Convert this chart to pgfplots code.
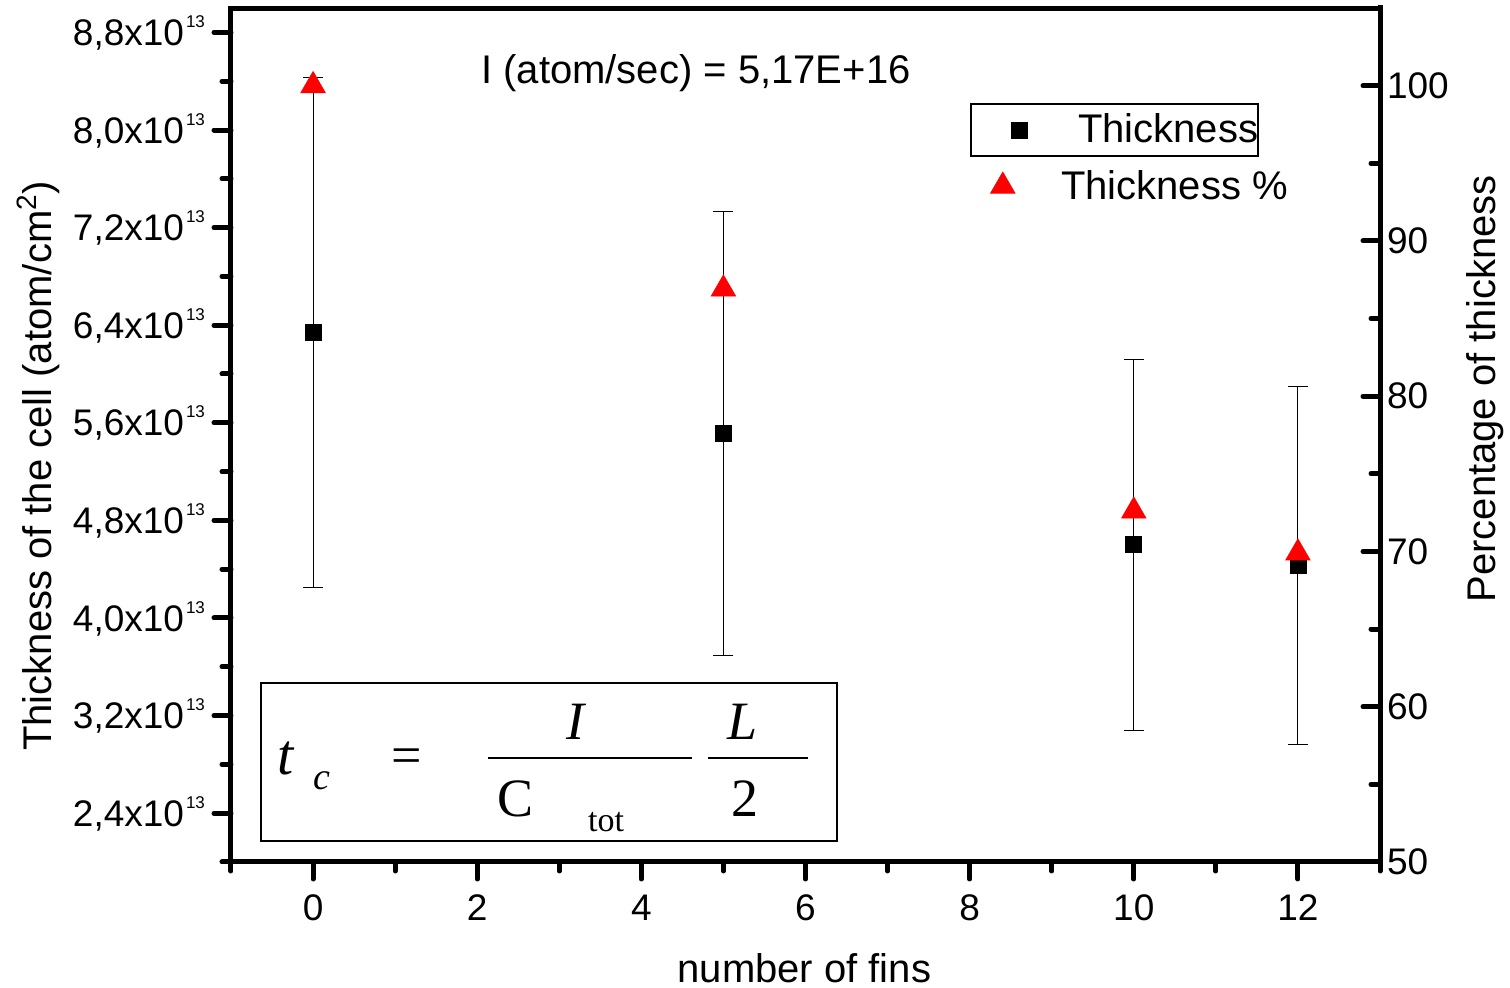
\documentclass[border=0pt]{standalone}
\usepackage{fontspec}
\setmainfont{Liberation Sans}
\newfontfamily\serif{Liberation Serif}
\usepackage{pgfplots}
\pgfplotsset{compat=1.18}
\newcommand{\tenexp}{x10\hspace{1pt}\raisebox{9pt}{\fontsize{8.5}{10}\selectfont 13}}
\begin{document}
\begin{tikzpicture}
\pgfplotsset{
  base/.style={scale only axis, width=574.5pt, height=427pt, xmin=-1, xmax=13,
    axis line style={line width=2.5pt, line cap=rect},
    major tick length=8.5pt, minor tick length=4.5pt,
    every major tick/.append style={line width=2.5pt, black, line cap=round},
    every minor tick/.append style={line width=2.5pt, black, line cap=round},
    /pgf/number format/assume math mode=true,
    tick label style={font=\fontsize{18.5}{20}\selectfont},
    label style={font=\fontsize{20}{24}\selectfont},
    legend image code/.code={\path (0pt,-4pt) (52.5pt,4pt);
      \draw[##1, line width=0.4pt] plot coordinates {(23.5pt,0pt)};},
  }
}
\begin{axis}[base, name=main, ymin=2.0e13, ymax=9.0e13,
  xtick pos=bottom, ytick pos=left, tick align=outside,
  xtick={0,2,...,12}, minor xtick={-1,1,...,13},
  xticklabel style={yshift=-4.5pt},
  scaled y ticks=false,
  ytick={2.4e13,3.2e13,4.0e13,4.8e13,5.6e13,6.4e13,7.2e13,8.0e13,8.8e13},
  yticklabels={{2,4\tenexp},{3,2\tenexp},{4,0\tenexp},{4,8\tenexp},{5,6\tenexp},{6,4\tenexp},{7,2\tenexp},{8,0\tenexp},{8,8\tenexp}},
  minor ytick={2.0e13,2.8e13,3.6e13,4.4e13,5.2e13,6.0e13,6.8e13,7.6e13,8.4e13},
  yticklabel style={anchor=base east, yshift=-6.6pt, xshift=-1pt},
  xlabel={number of fins},
  ylabel={Thickness of the cell (atom/cm\textsuperscript{2})},
  xlabel style={at={(axis description cs:0.499,-0.124)}, anchor=center},
  ylabel style={at={(axis description cs:-0.168,0.464)}, anchor=center},
  legend style={at={(rel axis cs:0.6432,0.8888)}, anchor=north west, draw=black, line width=1pt,
    inner xsep=0pt, inner ysep=5pt, column sep=0pt, nodes={inner sep=0pt},
    font=\fontsize{20}{24}\selectfont},
]
\addplot[only marks, mark=square*, mark size=4pt, black,
  error bars/.cd, y dir=both, y explicit,
  error bar style={line width=0.5pt, black},
  error mark options={line width=0.5pt, mark size=5pt, rotate=90}]
  coordinates {(0,6.34e13) +- (0,2.09e13) (5,5.51e13) +- (0,1.82e13)
               (10,4.60e13) +- (0,1.52e13) (12,4.43e13) +- (0,1.47e13)};
\addlegendentry{Thickness\hspace{4.5pt}}
\node[font=\fontsize{20}{24}\selectfont] at (rel axis cs:0.4047,0.924) {I (atom/sec) = 5,17E+16};
\end{axis}
\begin{axis}[base, ymin=50, ymax=105, axis y line*=right, axis x line=none,
  tick align=inside,
  ytick={50,60,...,100}, minor ytick={55,65,...,95},
  ylabel={Percentage of thickness},
  ylabel style={at={(axis description cs:1.0914,0.554)}, anchor=center},
  legend style={at={(rel axis cs:0.6301,0.8223)}, anchor=north west, draw=none, fill=none,
    inner xsep=0pt, inner ysep=5pt, column sep=0pt, nodes={inner sep=0pt},
    font=\fontsize{20}{24}\selectfont},
]
\addplot[only marks, mark=triangle*, mark size=7pt, red, mark options={draw=red, fill=red}]
  coordinates {(0,100) (5,86.9) (10,72.6) (12,69.9)};
\addlegendentry{Thickness \%}
\end{axis}
% formula box
\node[draw, line width=1pt, anchor=south west, minimum width=288pt, minimum height=79pt, inner sep=0pt] (fb) at ([xshift=14.5pt, yshift=10pt]main.south west) {};
\begin{scope}[every node/.style={inner sep=0pt, anchor=base, font=\serif\fontsize{27}{30}\selectfont}]
\node[font=\serif\fontsize{29}{32}\selectfont] at ([xshift=13pt,yshift=33.5pt]fb.south west) {\itshape t};
\node[font=\serif\fontsize{19}{22}\selectfont] at ([xshift=31pt,yshift=26pt]fb.south west) {\itshape c};
\node at ([xshift=73.5pt,yshift=34.2pt]fb.south west) {=};
\draw[line width=1pt] ([xshift=114pt,yshift=42pt]fb.south west) -- ++(102pt,0);
\node at ([xshift=157.5pt,yshift=51pt]fb.south west) {\itshape I};
\node at ([xshift=128pt,yshift=12.5pt]fb.south west) {C};
\node[font=\serif\fontsize{17}{20}\selectfont] at ([xshift=173pt,yshift=5pt]fb.south west) {tot};
\draw[line width=1pt] ([xshift=224pt,yshift=42pt]fb.south west) -- ++(50pt,0);
\node at ([xshift=241.5pt,yshift=51pt]fb.south west) {\itshape L};
\node at ([xshift=242.5pt,yshift=12.5pt]fb.south west) {2};
\end{scope}
\pgfresetboundingbox
\path (main.south west) ++(-115.5pt,-63pt) rectangle ++(755pt,494pt);
\end{tikzpicture}
\end{document}
